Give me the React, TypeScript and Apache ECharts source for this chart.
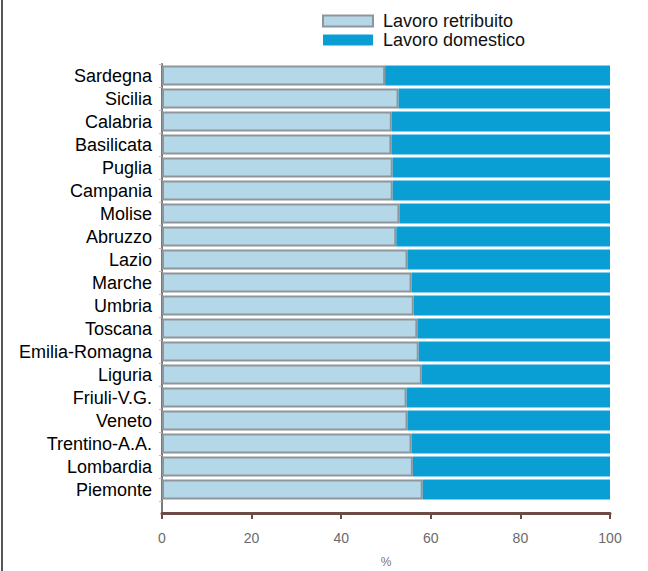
import React, { useEffect, useRef } from "react";
import * as echarts from "echarts";

const regions = [
  "Sardegna", "Sicilia", "Calabria", "Basilicata", "Puglia", "Campania", "Molise",
  "Abruzzo", "Lazio", "Marche", "Umbria", "Toscana", "Emilia-Romagna", "Liguria",
  "Friuli-V.G.", "Veneto", "Trentino-A.A.", "Lombardia", "Piemonte",
];
const lavoroRetribuito = [
  49.8, 52.8, 51.3, 51.2, 51.5, 51.5, 53.0, 52.3, 54.8, 55.7, 56.2, 57.0, 57.3, 58.0,
  54.6, 54.8, 55.7, 56.0, 58.2,
];
const lavoroDomestico = lavoroRetribuito.map((v) => +(100 - v).toFixed(1));
const xTicks = { min: 0, max: 100, interval: 20 };
const seriesNames = ["Lavoro retribuito", "Lavoro domestico"];

export default function App() {
  const ref = useRef<HTMLDivElement>(null);
  useEffect(() => {
    document.body.style.margin = "0";
    const chart = echarts.init(ref.current!, null, { renderer: "svg" });
    const font = 'Arial, "Liberation Sans", sans-serif';
    chart.setOption({
      animation: false,
      backgroundColor: "#ffffff",
      textStyle: { fontFamily: font },
      grid: { left: 162, right: 38, top: 64, bottom: 70, outerBoundsMode: "none", containLabel: false },
      legend: {
        orient: "vertical",
        left: 317,
        top: 7,
        icon: "rect",
        itemWidth: 50,
        itemHeight: 11,
        itemGap: 1,
        textStyle: { fontSize: 18, lineHeight: 18, color: "#111", fontFamily: font, padding: [0, 0, 0, 5] },
        data: [
          { name: seriesNames[0], itemStyle: { color: "#b5d8e8", borderColor: "#8f969b", borderWidth: 2 } },
          { name: seriesNames[1], itemStyle: { color: "#0a9fd4" } },
        ],
      },
      xAxis: {
        type: "value",
        min: xTicks.min,
        max: xTicks.max,
        interval: xTicks.interval,
        offset: 12,
        name: "%",
        nameLocation: "middle",
        nameGap: 43,
        nameTextStyle: { fontSize: 12, color: "#777" },
        axisLine: { show: true, lineStyle: { color: "#6e4a44", width: 3 } },
        axisTick: { show: true, length: 6, lineStyle: { color: "#6e4a44", width: 2 } },
        axisLabel: { fontSize: 14, color: "#6a6a6a", margin: 18 },
        splitLine: { show: false },
      },
      yAxis: {
        type: "category",
        data: regions,
        inverse: true,
        axisLine: { show: true, lineStyle: { color: "#7a7a7a", width: 2 } },
        axisTick: { show: true, length: 3, lineStyle: { color: "#bbb" } },
        axisLabel: { fontSize: 18, color: "#000", margin: 10, interval: 0 },
      },
      graphic: [
        { type: "line", shape: { x1: 2, y1: 0, x2: 2, y2: 571 }, style: { stroke: "#555", lineWidth: 2 } },
        { type: "line", shape: { x1: 162, y1: 500, x2: 162, y2: 513 }, style: { stroke: "#7a7a7a", lineWidth: 2 } },
      ],
      series: [
        {
          name: seriesNames[0],
          type: "bar",
          stack: "tot",
          data: lavoroRetribuito,
          barCategoryGap: "12%",
          itemStyle: { color: "#b5d8e8", borderColor: "#8f969b", borderWidth: 2 },
        },
        {
          name: seriesNames[1],
          type: "bar",
          stack: "tot",
          data: lavoroDomestico,
          itemStyle: { color: "#0a9fd4" },
        },
      ],
    });
    return () => chart.dispose();
  }, []);
  return <div ref={ref} style={{ width: 648, height: 571 }} />;
}
